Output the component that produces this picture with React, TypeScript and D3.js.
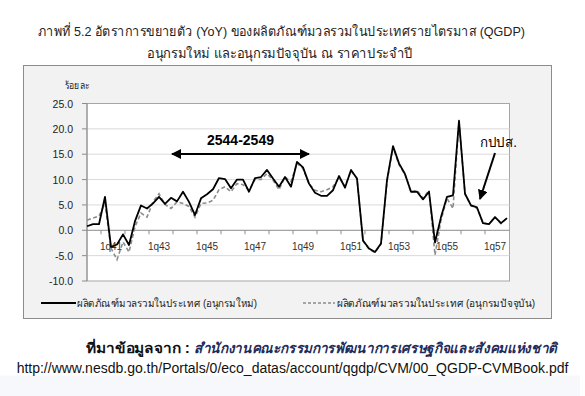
import React from 'react'
import * as d3 from 'd3'

// quarterly labels, 1q40 .. 3q57
const quarters: string[] = []
for (let yr = 40; yr <= 57; yr++) {
  for (let q = 1; q <= 4; q++) {
    if (yr === 57 && q > 3) break
    quarters.push(`${q}q${yr}`)
  }
}

// YoY growth, new series (solid)
const newSeries = [
  0.8, 1.2, 1.2, 6.6, -3.3, -2.8, -0.8, -2.9, 1.8, 4.9,
  4.3, 5.3, 6.6, 5.2, 6.4, 5.7, 7.6, 5.6, 3.0, 6.3,
  7.1, 8.1, 10.3, 10.1, 8.3, 10.0, 10.0, 7.6, 10.3, 10.5,
  11.9, 10.2, 8.6, 10.5, 8.6, 13.5, 12.4, 9.2, 7.4, 6.8,
  6.8, 7.9, 10.7, 8.4, 11.9, 10.2, -2.0, -3.6, -4.3, -2.6,
  9.9, 16.6, 13.2, 11.1, 7.6, 7.6, 6.1, 7.6, -2.4, 2.6,
  6.6, 6.9, 21.6, 7.2, 4.9, 4.5, 1.4, 1.2, 2.6, 1.4,
  2.4,
]

// YoY growth, current series (dashed)
const currentSeries = [
  2.0, 2.4, 2.8, 5.3, -3.5, -5.8, -2.3, -4.3, 0.7, 3.4,
  2.6, 5.6, 7.2, 5.1, 4.3, 5.6, 5.3, 4.7, 2.6, 5.3,
  5.4, 5.9, 8.0, 8.6, 7.6, 9.2, 9.0, 7.9, 10.0, 10.0,
  11.2, 9.9, 8.0, 10.5, 9.6, 13.2, 12.2, 9.2, 7.9, 7.6,
  8.0, 8.6, 10.4, 8.7, 11.7, 10.2, -2.1, -3.7, -4.4, -2.7,
  9.6, 16.4, 12.9, 11.0, 7.5, 7.9, 6.3, 7.9, -4.9, 2.0,
  6.3, 4.3, 21.4, 7.2, 4.8, 4.4, 1.4, 1.2, 2.6, 1.3,
  2.4,
]

const yTicks = [25, 20, 15, 10, 5, 0, -5, -10]

const titleLines = [
  'ภาพที่ 5.2 อัตราการขยายตัว (YoY) ของผลิตภัณฑ์มวลรวมในประเทศรายไตรมาส (QGDP)',
  'อนุกรมใหม่ และอนุกรมปัจจุบัน ณ ราคาประจำปี',
]
const seriesNames = [
  'ผลิตภัณฑ์มวลรวมในประเทศ (อนุกรมใหม่)',
  'ผลิตภัณฑ์มวลรวมในประเทศ (อนุกรมปัจจุบัน)',
]
const yUnit = 'ร้อยละ'
const periodLabel = '2544-2549'
const eventLabel = 'กปปส.'
const sourceLabel = 'ที่มาข้อมูลจาก : '
const sourceOrg = 'สำนักงานคณะกรรมการพัฒนาการเศรษฐกิจและสังคมแห่งชาติ'
const sourceUrl = 'http://www.nesdb.go.th/Portals/0/eco_datas/account/qgdp/CVM/00_QGDP-CVMBook.pdf'

const W = 585
const H = 396
const plot = { left: 87, right: 509.5, top: 103.5, bottom: 281 }
const font = "Tahoma, 'Liberation Sans', 'Noto Sans', sans-serif"
const fit = 'spacingAndGlyphs'

function App() {
  const x = d3.scaleLinear().domain([0, quarters.length - 1]).range([plot.left, plot.left + 6 * (quarters.length - 1)])
  const y = d3.scaleLinear().domain([-10, 25]).range([plot.bottom, plot.top])

  const line = d3.line<number>().x((_, i) => x(i)).y(d => y(d))

  const labelIdx = d3.range(4, quarters.length, 8)
  const tickIdx = d3.range(0, quarters.length - 4, 4).map(i => i + 2.33)

  return (
    <svg width={W} height={H} style={{ position: 'absolute', left: 0, top: 0 }} fontFamily={font}>
      <defs>
        <marker id="arr" viewBox="0 0 10 10" refX="9" refY="5" markerWidth="5" markerHeight="5" orient="auto-start-reverse">
          <path d="M0,0 L10,5 L0,10 z" fill="#000" />
        </marker>
      </defs>
      <rect x={0} y={0} width={W} height={H} fill="#fff" />
      <rect x={0} y={375.5} width={580} height={H - 375.5} fill="#f7f8fc" />

      <text x={38} y={31} dominantBaseline="central" fontSize={13.5} fill="#222" textLength={487} lengthAdjust={fit}>{titleLines[0]}</text>
      <text x={147} y={53} dominantBaseline="central" fontSize={13.5} fill="#222" textLength={266} lengthAdjust={fit}>{titleLines[1]}</text>

      {/* chart frame */}
      <rect x={23.5} y={65.5} width={528} height={253} fill="#f2f2f2" stroke="#8c8c8c" />
      <rect x={plot.left} y={plot.top} width={plot.right - plot.left} height={plot.bottom - plot.top} fill="#fff" stroke="#a6a6a6" />

      {yTicks.map(v => (
        <g key={v}>
          {v !== 0 && v !== 25 && v !== -10 && (
            <line x1={plot.left} x2={plot.right} y1={y(v)} y2={y(v)} stroke="#d9d9d9" />
          )}
          <line x1={plot.left - 5} x2={plot.left} y1={y(v)} y2={y(v)} stroke="#8c8c8c" />
          <text x={73} y={y(v)} textAnchor="end" dominantBaseline="central" fontSize={10.5} fill="#222">{v.toFixed(1)}</text>
        </g>
      ))}
      <line x1={plot.left} x2={plot.left} y1={plot.top} y2={plot.bottom} stroke="#8c8c8c" />
      <text x={65} y={85} dominantBaseline="central" fontSize={10} fill="#222" textLength={24} lengthAdjust={fit}>{yUnit}</text>

      {/* category axis at zero */}
      <line x1={plot.left} x2={plot.right} y1={y(0)} y2={y(0)} stroke="#8c8c8c" />
      {tickIdx.map(i => (
        <line key={i} x1={x(i)} x2={x(i)} y1={y(0)} y2={y(0) + 4} stroke="#8c8c8c" />
      ))}
      {labelIdx.map(i => (
        <text key={i} x={x(i)} y={246.5} textAnchor="middle" dominantBaseline="central" fontSize={10} fill="#333">{quarters[i]}</text>
      ))}

      <path d={line(currentSeries) || ''} fill="none" stroke="#8c8c8c" strokeWidth={1.6} strokeDasharray="4,2.5" />
      <path d={line(newSeries) || ''} fill="none" stroke="#000" strokeWidth={1.8} strokeLinejoin="round" />

      {/* annotations */}
      <text x={207} y={140} dominantBaseline="central" fontSize={14} fontWeight="bold" fill="#000">{periodLabel}</text>
      <line x1={172} x2={309} y1={154} y2={154} stroke="#000" strokeWidth={2} markerStart="url(#arr)" markerEnd="url(#arr)" />
      <text x={480} y={142} dominantBaseline="central" fontSize={14} fill="#000" textLength={37} lengthAdjust={fit}>{eventLabel}</text>
      <line x1={495} y1={153} x2={480} y2={199} stroke="#000" strokeWidth={2} markerEnd="url(#arr)" />

      {/* legend */}
      <line x1={41} x2={76} y1={303} y2={303} stroke="#000" strokeWidth={2} />
      <text x={77} y={303} dominantBaseline="central" fontSize={10.5} fill="#222" textLength={180} lengthAdjust={fit}>{seriesNames[0]}</text>
      <line x1={303} x2={335} y1={303} y2={303} stroke="#8c8c8c" strokeWidth={1.5} strokeDasharray="3,2" />
      <text x={337} y={303} dominantBaseline="central" fontSize={10.5} fill="#222" textLength={198} lengthAdjust={fit}>{seriesNames[1]}</text>

      {/* source */}
      <text x={86} y={348} dominantBaseline="central" fontSize={14} fontWeight="bold" fill="#111" textLength={104} lengthAdjust={fit}>{sourceLabel}</text>
      <text x={194} y={348} dominantBaseline="central" fontSize={14} fontWeight="bold" fontStyle="italic" fill="#1f2d5c" textLength={363} lengthAdjust={fit}>{sourceOrg}</text>
      <text x={292.5} y={368} textAnchor="middle" dominantBaseline="central" fontSize={14} fill="#111">{sourceUrl}</text>
    </svg>
  )
}

export default App
